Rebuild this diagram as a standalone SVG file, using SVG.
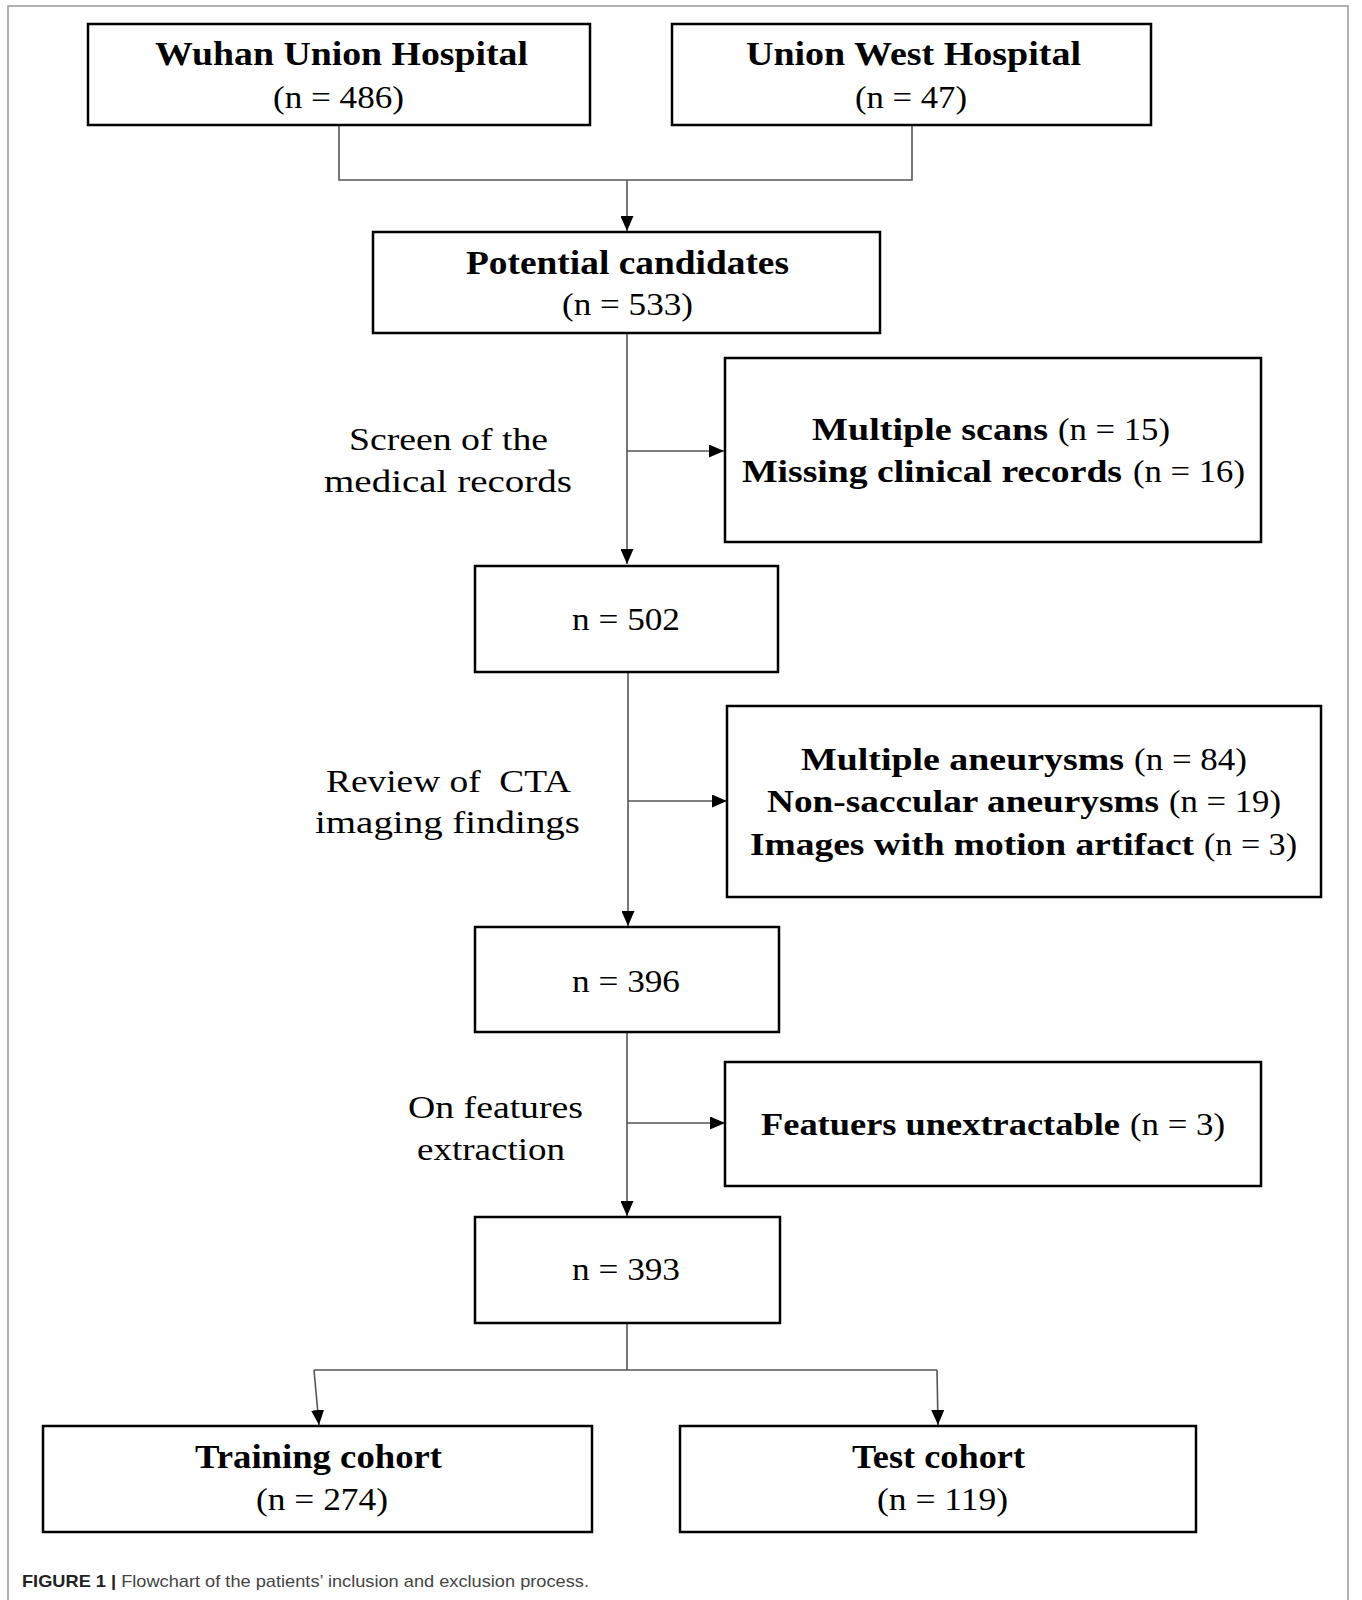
<svg xmlns="http://www.w3.org/2000/svg" width="1362" height="1600" viewBox="0 0 1362 1600">
<style>
.box{fill:#fff;stroke:#000;stroke-width:2.5}
.b{font-family:"Liberation Serif","DejaVu Serif",serif;font-weight:bold;font-size:33px;fill:#000}
.r{font-family:"Liberation Serif","DejaVu Serif",serif;font-size:31px;fill:#000}
.bs{font-family:"Liberation Serif","DejaVu Serif",serif;font-weight:bold;font-size:31px;fill:#000}
.conn{fill:none;stroke:#555;stroke-width:1.6}
.cap{font-family:"Liberation Sans","Arial",sans-serif;font-size:17px;fill:#444}
</style>
<defs>
<marker id="ah" markerUnits="userSpaceOnUse" markerWidth="16" markerHeight="13" refX="15" refY="6.5" orient="auto">
<path d="M0,0 L15,6.5 L0,13 z" fill="#000"/>
</marker>
</defs>
<rect width="1362" height="1600" fill="#fff"/>
<path d="M8,1600 V6 H1348 V1600" fill="none" stroke="#999" stroke-width="1.5"/>

<g id="connectors">
<path class="conn" d="M339,125 V180 H912 V125"/>
<path class="conn" d="M627,180 V231" marker-end="url(#ah)"/>
<path class="conn" d="M627,333 V564" marker-end="url(#ah)"/>
<path class="conn" d="M627,451 H724" marker-end="url(#ah)"/>
<path class="conn" d="M628,672 V926" marker-end="url(#ah)"/>
<path class="conn" d="M628,801 H727" marker-end="url(#ah)"/>
<path class="conn" d="M627,1032 V1216" marker-end="url(#ah)"/>
<path class="conn" d="M627,1123 H725" marker-end="url(#ah)"/>
<path class="conn" d="M627,1323 V1370 M314,1370 H937"/>
<path class="conn" d="M314,1370 L319,1425" marker-end="url(#ah)"/>
<path class="conn" d="M937,1370 L938,1425" marker-end="url(#ah)"/>
</g>

<g id="wuhan">
<rect class="box" x="88" y="24" width="502" height="101"/>
<text class="b" x="155" y="65" textLength="373" lengthAdjust="spacingAndGlyphs">Wuhan Union Hospital</text>
<text class="r" x="273" y="108" textLength="131" lengthAdjust="spacingAndGlyphs">(n = 486)</text>
</g>
<g id="unionwest">
<rect class="box" x="672" y="24" width="479" height="101"/>
<text class="b" x="746" y="65" textLength="335" lengthAdjust="spacingAndGlyphs">Union West Hospital</text>
<text class="r" x="855" y="108" textLength="112" lengthAdjust="spacingAndGlyphs">(n = 47)</text>
</g>
<g id="potential">
<rect class="box" x="373" y="232" width="507" height="101"/>
<text class="b" x="466" y="274" textLength="323" lengthAdjust="spacingAndGlyphs">Potential candidates</text>
<text class="r" x="562" y="315" textLength="131" lengthAdjust="spacingAndGlyphs">(n = 533)</text>
</g>
<g id="label1">
<text class="r" x="349" y="450" textLength="199" lengthAdjust="spacingAndGlyphs">Screen of the</text>
<text class="r" x="324" y="492" textLength="248" lengthAdjust="spacingAndGlyphs">medical records</text>
</g>
<g id="excl1">
<rect class="box" x="725" y="358" width="536" height="184"/>
<text class="bs" x="812" y="440" textLength="236" lengthAdjust="spacingAndGlyphs">Multiple scans</text>
<text class="r" x="1058" y="440" textLength="112" lengthAdjust="spacingAndGlyphs">(n = 15)</text>
<text class="bs" x="742" y="482" textLength="380" lengthAdjust="spacingAndGlyphs">Missing clinical records</text>
<text class="r" x="1133" y="482" textLength="112" lengthAdjust="spacingAndGlyphs">(n = 16)</text>
</g>
<g id="n502">
<rect class="box" x="475" y="566" width="303" height="106"/>
<text class="r" x="572" y="630" textLength="108" lengthAdjust="spacingAndGlyphs">n = 502</text>
</g>
<g id="label2">
<text class="r" x="326" y="792" textLength="245" lengthAdjust="spacingAndGlyphs" style="white-space:pre">Review of  CTA</text>
<text class="r" x="315" y="833" textLength="265" lengthAdjust="spacingAndGlyphs">imaging findings</text>
</g>
<g id="excl2">
<rect class="box" x="727" y="706" width="594" height="191"/>
<text class="bs" x="801" y="770" textLength="323" lengthAdjust="spacingAndGlyphs">Multiple aneurysms</text>
<text class="r" x="1134" y="770" textLength="113" lengthAdjust="spacingAndGlyphs">(n = 84)</text>
<text class="bs" x="767" y="812" textLength="392" lengthAdjust="spacingAndGlyphs">Non-saccular aneurysms</text>
<text class="r" x="1169" y="812" textLength="112" lengthAdjust="spacingAndGlyphs">(n = 19)</text>
<text class="bs" x="750" y="855" textLength="444" lengthAdjust="spacingAndGlyphs">Images with motion artifact</text>
<text class="r" x="1204" y="855" textLength="93" lengthAdjust="spacingAndGlyphs">(n = 3)</text>
</g>
<g id="n396">
<rect class="box" x="475" y="927" width="304" height="105"/>
<text class="r" x="572" y="992" textLength="108" lengthAdjust="spacingAndGlyphs">n = 396</text>
</g>
<g id="label3">
<text class="r" x="408" y="1118" textLength="175" lengthAdjust="spacingAndGlyphs">On features</text>
<text class="r" x="417" y="1160" textLength="148" lengthAdjust="spacingAndGlyphs">extraction</text>
</g>
<g id="excl3">
<rect class="box" x="725" y="1062" width="536" height="124"/>
<text class="bs" x="761" y="1135" textLength="359" lengthAdjust="spacingAndGlyphs">Featuers unextractable</text>
<text class="r" x="1130" y="1135" textLength="95" lengthAdjust="spacingAndGlyphs">(n = 3)</text>
</g>
<g id="n393">
<rect class="box" x="475" y="1217" width="305" height="106"/>
<text class="r" x="572" y="1280" textLength="108" lengthAdjust="spacingAndGlyphs">n = 393</text>
</g>
<g id="training">
<rect class="box" x="43" y="1426" width="549" height="106"/>
<text class="b" x="195" y="1468" textLength="247" lengthAdjust="spacingAndGlyphs">Training cohort</text>
<text class="r" x="256" y="1510" textLength="132" lengthAdjust="spacingAndGlyphs">(n = 274)</text>
</g>
<g id="test">
<rect class="box" x="680" y="1426" width="516" height="106"/>
<text class="b" x="852" y="1468" textLength="173" lengthAdjust="spacingAndGlyphs">Test cohort</text>
<text class="r" x="877" y="1510" textLength="131" lengthAdjust="spacingAndGlyphs">(n = 119)</text>
</g>
<g id="caption">
<text class="cap" x="22" y="1587" textLength="567" lengthAdjust="spacingAndGlyphs"><tspan font-weight="bold" fill="#222">FIGURE 1</tspan><tspan fill="#222" font-weight="bold"> | </tspan><tspan>Flowchart of the patients’ inclusion and exclusion process.</tspan></text>
</g>
</svg>
